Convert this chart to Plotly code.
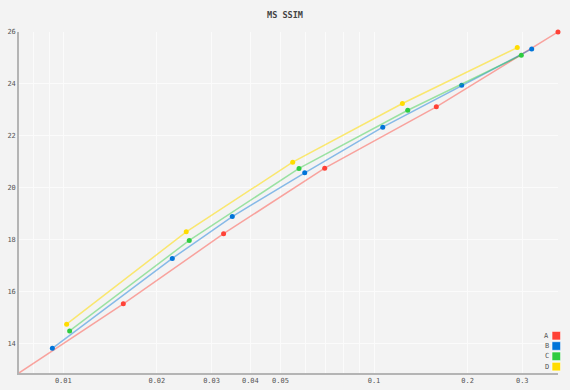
import plotly.graph_objects as go

series_names = ["A", "B", "C", "D"]
colors = ["#FF4136", "#0074D9", "#2ECC40", "#FFDC00"]
line_colors = ["rgba(255,65,54,0.45)", "rgba(0,116,217,0.45)", "rgba(46,204,64,0.45)", "rgba(255,220,0,0.55)"]

a_x = [0.0072, 0.0156, 0.0328, 0.0694, 0.1587, 0.391]
a_y = [12.88, 15.54, 18.24, 20.76, 23.12, 26.0]
b_x = [0.00922, 0.02243, 0.03498, 0.05984, 0.1067, 0.1915, 0.3218]
b_y = [13.83, 17.29, 18.90, 20.58, 22.34, 23.95, 25.35]
c_x = [0.01048, 0.02543, 0.05737, 0.1284, 0.2979]
c_y = [14.50, 17.98, 20.75, 22.99, 25.11]
d_x = [0.01025, 0.02487, 0.05474, 0.1234, 0.2891]
d_y = [14.76, 18.31, 20.99, 23.25, 25.40]

xs = [a_x, b_x, c_x, d_x]
ys = [a_y, b_y, c_y, d_y]

x_tickvals = [0.008, 0.009, 0.01, 0.02, 0.03, 0.04, 0.05, 0.06, 0.07, 0.08, 0.09, 0.1, 0.2, 0.3]
x_ticktext = ["", "", "0.01", "0.02", "0.03", "0.04", "0.05", "", "", "", "", "0.1", "0.2", "0.3"]
y_tickvals = [14, 16, 18, 20, 22, 24, 26]

font = "DejaVu Sans Mono"
fig = go.Figure()
for name, x, y, c, lc in zip(series_names, xs, ys, colors, line_colors):
    fig.add_trace(go.Scatter(x=x, y=y, name=name, mode="lines+markers",
                             line=dict(color=lc, width=1.5),
                             marker=dict(color=c, size=5),
                             cliponaxis=False, showlegend=False))

# custom legend (label left of swatch)
W, H = 539, 341
shapes = []
annotations = []
for i, (name, c) in enumerate(zip(series_names, colors)):
    cy = 335.7 + i * 10.3
    cx = 556.3
    fy = (373 - cy) / H
    fx = (cx - 19) / W
    hx = 4.3 / W
    hy = 4.3 / H
    shapes.append(dict(type="rect", xref="paper", yref="paper",
                       x0=fx - hx, x1=fx + hx, y0=fy - hy, y1=fy + hy,
                       fillcolor=c, line=dict(color="rgba(255,255,255,0.6)", width=1)))
    annotations.append(dict(xref="paper", yref="paper", x=(546.5 - 19) / W, y=fy,
                            text=name, showarrow=False, xanchor="center", yanchor="middle",
                            font=dict(family=font, size=7, color="#555")))

fig.update_layout(
    width=570, height=390,
    margin=dict(l=19, r=12, t=32, b=17, autoexpand=False),
    paper_bgcolor="#f3f3f3", plot_bgcolor="#f3f3f3",
    title=dict(text="<b>MS SSIM</b>", x=0.5, xanchor="center", y=1 - 15 / 390, yanchor="middle",
               font=dict(family=font, size=8.5, color="#444")),
    font=dict(family=font, size=7, color="#555"),
    shapes=shapes, annotations=annotations,
    showlegend=False,
)
fig.update_xaxes(type="log", range=[-2.1426, -0.4078], tickvals=x_tickvals, ticktext=x_ticktext,
                 showgrid=True, gridcolor="#fbfbfb", gridwidth=1, zeroline=False, automargin=False,
                 showline=True, linecolor="#b4b4b4", linewidth=1.5, ticks="",
                 tickfont=dict(family=font, size=7, color="#555"))
fig.update_yaxes(range=[12.88, 26.0], tickvals=y_tickvals,
                 showgrid=True, gridcolor="#fbfbfb", gridwidth=1, zeroline=False, automargin=False,
                 showline=True, linecolor="#b4b4b4", linewidth=1.5, ticks="",
                 tickfont=dict(family=font, size=7, color="#555"))

fig.write_html("out.html", config={"displayModeBar": False},
               post_script="document.body.style.margin='0';document.body.style.background='#f3f3f3';")
